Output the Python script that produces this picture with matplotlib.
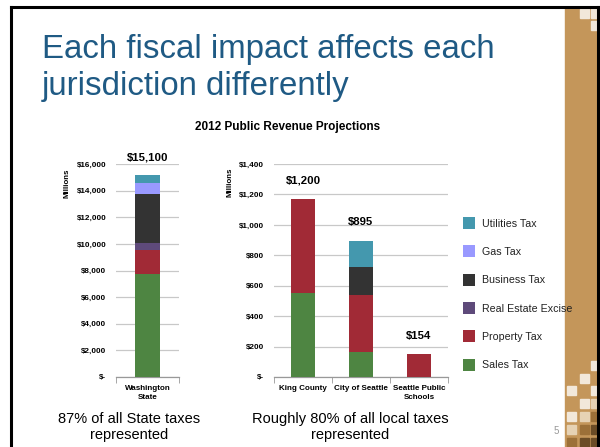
import matplotlib
matplotlib.use("Agg")
import matplotlib.pyplot as plt
from matplotlib.patches import Rectangle
from matplotlib.lines import Line2D
import numpy as np

plt.rcParams["font.family"] = ["Liberation Sans", "DejaVu Sans"]

# data (millions of dollars)
tax_types = ["Sales Tax", "Property Tax", "Real Estate Excise",
             "Business Tax", "Gas Tax", "Utilities Tax"]
colors = ["#4E8542", "#A12A36", "#5E4A7A", "#333333", "#9999FF", "#4498AE"]

state_names = ["Washington\nState"]
state_values = [[7700], [1870], [530], [3610], [900], [550]]
state_totals = ["$15,100"]

local_names = ["King County", "City of Seattle", "Seattle Public\nSchools"]
local_values = [
    [552, 166, 0],     # Sales Tax
    [618, 370, 154],   # Property Tax
    [0, 0, 0],         # Real Estate Excise
    [0, 184, 0],       # Business Tax
    [0, 0, 0],         # Gas Tax
    [0, 177, 0],       # Utilities Tax
]
local_totals = ["$1,200", "$895", "$154"]

state_ticks = [0, 2000, 4000, 6000, 8000, 10000, 12000, 14000, 16000]
local_ticks = [0, 200, 400, 600, 800, 1000, 1200, 1400]

W, H = 600, 447
fig = plt.figure(figsize=(6, 4.47), dpi=100)


def fx(px):
    return px / W


def fy(py):
    return 1 - py / H


def money(v):
    return "$-" if v == 0 else f"${v:,.0f}"


def stacked(ax, names, values, totals, ticks):
    x = np.arange(len(names))
    bottom = np.zeros(len(names))
    bars = []
    for vals, col, lab in zip(values, colors, tax_types):
        vals = np.array(vals, dtype=float)
        b = ax.bar(x, vals, 0.41, bottom=bottom, color=col, label=lab,
                   zorder=3)
        bars.append(b)
        bottom += vals
    for xi, top, txt in zip(x, bottom, totals):
        ax.annotate(txt, (xi, top), xytext=(0, 13), textcoords="offset points",
                    ha="center", va="center", fontsize=8.2, fontweight="bold")
    ax.set_xlim(-0.5, len(names) - 0.5)
    ax.set_ylim(0, ticks[-1])
    ax.set_yticks(ticks)
    ax.set_yticklabels([money(t) for t in ticks], fontsize=5.9,
                       fontweight="bold")
    ax.tick_params(axis="y", length=0, pad=7)
    ax.set_xticks(x)
    ax.set_xticklabels(names, fontsize=5.8, fontweight="bold",
                       linespacing=1.3)
    ax.set_xticks(np.arange(len(names) + 1) - 0.5, minor=True)
    ax.tick_params(axis="x", which="major", length=0, pad=6)
    ax.tick_params(axis="x", which="minor", length=4, color="#999999")
    ax.grid(axis="y", color="#C8C8C8", linewidth=0.9, zorder=0)
    for s in ["top", "right", "left"]:
        ax.spines[s].set_visible(False)
    ax.spines["bottom"].set_color("#999999")
    ax.spines["bottom"].set_linewidth(0.9)
    return bars


ax1 = fig.add_axes([fx(116), fy(377), fx(179) - fx(116), fy(164) - fy(377)])
stacked(ax1, state_names, state_values, state_totals, state_ticks)
ax1.text(-0.778, 0.911, "Millions", transform=ax1.transAxes, rotation=90,
         ha="center", va="center", fontsize=5.7, fontweight="bold")

ax2 = fig.add_axes([fx(274), fy(377), fx(448) - fx(274), fy(164) - fy(377)])
bars = stacked(ax2, local_names, local_values, local_totals, local_ticks)
ax2.text(-0.253, 0.915, "Millions", transform=ax2.transAxes, rotation=90,
         ha="center", va="center", fontsize=5.7, fontweight="bold")

leg = ax2.legend(bars[::-1], tax_types[::-1], loc="upper left",
                 bbox_to_anchor=(fx(463), fy(217)),
                 bbox_transform=fig.transFigure, frameon=False,
                 fontsize=7.7, handlelength=1.12, handleheight=1.35,
                 handletextpad=0.62, labelspacing=1.53, borderpad=0,
                 borderaxespad=0)
for t in leg.get_texts():
    t.set_color("#222222")

# slide decoration
fig.add_artist(Rectangle((fx(565), 0), fx(597) - fx(565), fy(8),
                         transform=fig.transFigure, color="#C4965A",
                         zorder=-2))
cream, beige, brown, dark = "#F2E8DA", "#E6D2B4", "#9C7038", "#6B4C26"
cols = [567, 580, 591]
squares = [
    (1, 9, cream), (2, 9, cream), (2, 21, cream),
    (2, 361, cream), (1, 374, cream), (0, 386, cream), (2, 386, cream),
    (1, 399, cream), (2, 399, beige),
    (0, 412, cream), (1, 412, beige), (2, 412, brown),
    (0, 425, beige), (1, 425, brown), (2, 425, dark),
    (0, 438, brown), (1, 438, dark), (2, 438, dark),
]
for c, top, col in squares:
    wsq = 9 if c < 2 else 7
    fig.add_artist(Rectangle((fx(cols[c]), fy(top + 9)), fx(wsq), 9 / H,
                             transform=fig.transFigure, color=col,
                             zorder=-1))
for xs, ys in [([fx(10.5), fx(10.5)], [0, fy(7)]),
               ([fx(10.5), 1], [fy(7), fy(7)]),
               ([fx(598), fx(598)], [0, fy(7)])]:
    fig.add_artist(Line2D(xs, ys, color="black", linewidth=2.2,
                          transform=fig.transFigure))

title_col = "#1F5A84"
fig.text(fx(42), fy(58), "Each fiscal impact affects each", fontsize=23.8,
         color=title_col, va="baseline", ha="left")
fig.text(fx(42), fy(95), "jurisdiction differently", fontsize=23.8,
         color=title_col, va="baseline", ha="left")
fig.text(fx(288), fy(127), "2012 Public Revenue Projections", fontsize=8.5,
         fontweight="bold", ha="center", va="center")

fig.text(fx(129), fy(427), "87% of all State taxes\nrepresented",
         fontsize=10.5, ha="center", va="center", linespacing=1.15)
fig.text(fx(350), fy(427), "Roughly 80% of all local taxes\nrepresented",
         fontsize=10.5, ha="center", va="center", linespacing=1.15)
fig.text(fx(556), fy(431), "5", fontsize=7, color="#999999",
         ha="center", va="center")

fig.savefig("out.png", dpi=100)
